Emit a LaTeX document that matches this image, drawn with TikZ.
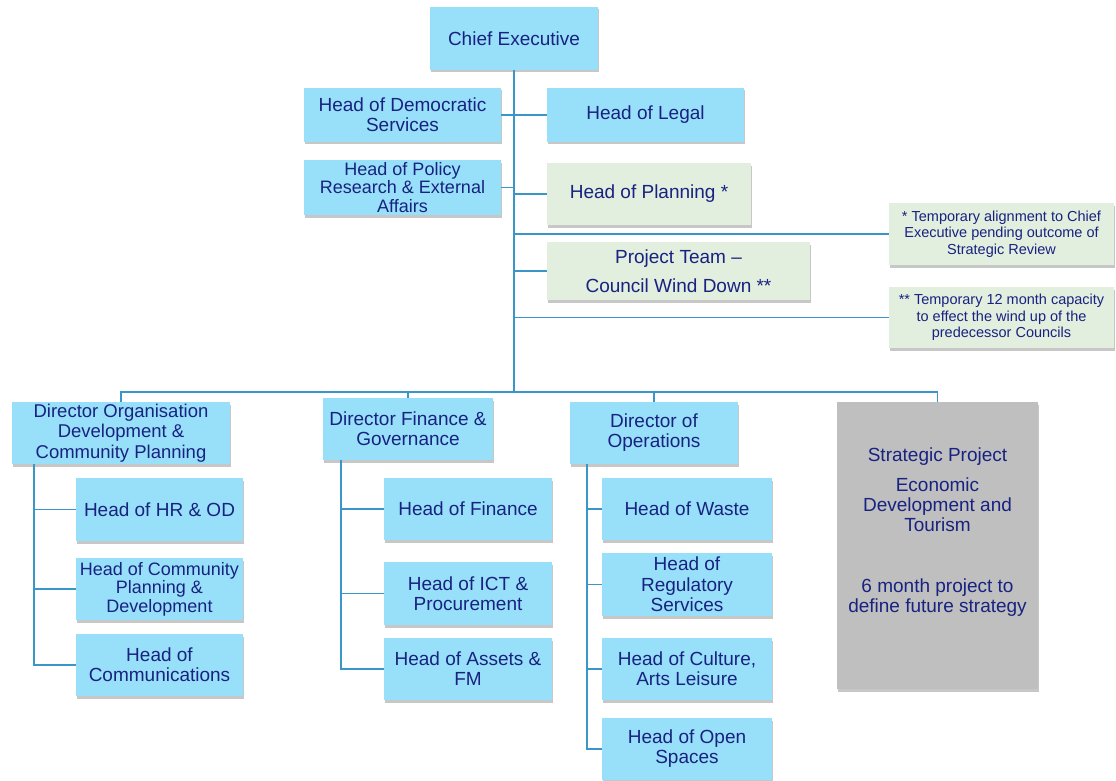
\documentclass[tikz,border=0pt]{standalone}
\usepackage{fontspec}
\setmainfont{Liberation Sans}
\usetikzlibrary{shadows}
\definecolor{boxblue}{RGB}{152,224,250}
\definecolor{boxgreen}{RGB}{226,238,222}
\definecolor{boxgrey}{RGB}{191,191,191}
\definecolor{navy}{RGB}{24,34,128}
\definecolor{linkblue}{RGB}{58,150,200}
\tikzset{
  wh/.style 2 args={minimum width=#1pt, minimum height=#2pt},
  box/.style={draw=none, fill=boxblue, text=navy, align=center, inner sep=0pt,
    font=\fontsize{19}{20}\selectfont,
    drop shadow={shadow xshift=1pt, shadow yshift=-2.5pt, fill=black, opacity=0.22}},
  gbox/.style={box, fill=boxgreen},
  greybox/.style={box, fill=boxgrey},
  small/.style={font=\fontsize{18}{18.5}\selectfont},
  note/.style={font=\fontsize{14.5}{16.5}\selectfont},
  conn/.style={draw=linkblue, line width=1.4pt}
}
\begin{document}
\begin{tikzpicture}[x=1pt, y=-1pt]
\useasboundingbox (0,0) rectangle (1116,781);
% top level
\node[box, wh={168}{63}] (ce) at (514,38.5) {Chief Executive};
\node[box, wh={197}{54}] (dem) at (402.5,115) {Head of Democratic\\Services};
\node[box, wh={197}{54}] (leg) at (645.5,115) {Head of Legal};
\node[box, small, wh={197}{55}] (pol) at (402.5,187.5) {Head of Policy\\Research \& External\\Affairs};
\node[gbox, wh={204}{62}] (plan) at (649,194) {Head of Planning *};
\node[gbox, wh={263}{58}, font=\fontsize{19}{29}\selectfont] (proj) at (678.5,271) {Project Team --\\Council Wind Down **};
\node[gbox, note, wh={225}{62}] (n1) at (1001.5,234) {* Temporary alignment to Chief\\Executive pending outcome of\\Strategic Review};
\node[gbox, note, wh={225}{61}] (n2) at (1001.5,317.5) {** Temporary 12 month capacity\\to effect the wind up of the\\predecessor Councils};
% directors
\node[box, font=\fontsize{18.5}{20.5}\selectfont, wh={218}{62}] (d1) at (121,433) {Director Organisation\\Development \&\\Community Planning};
\node[box, wh={170}{62}] (d2) at (408,429) {Director Finance \&\\Governance};
\node[box, wh={168}{62}] (d3) at (654,433) {Director of\\Operations};
\node[greybox, wh={201}{287}] (sp) at (937.5,545.5) {Strategic Project\\[10pt]Economic\\Development and\\Tourism\\[41pt]6 month project to\\define future strategy\\[11pt]\mbox{}};
% column 1
\node[box, wh={167}{63}] (hr) at (159.5,509.5) {Head of HR \& OD};
\node[box, small, wh={167}{62}] (cp) at (159.5,589) {Head of Community\\Planning \&\\Development};
\node[box, wh={167}{62}] (com) at (159.5,665) {Head of\\Communications};
% column 2
\node[box, wh={168}{62}] (fin) at (468,509) {Head of Finance};
\node[box, wh={168}{63}] (ict) at (468,593.5) {Head of ICT \&\\Procurement};
\node[box, wh={168}{62}] (ass) at (468,669) {Head of Assets \&\\FM};
% column 3
\node[box, wh={170}{62}] (was) at (687,509) {Head of Waste};
\node[box, font=\fontsize{19}{20.5}\selectfont, wh={170}{63}] (reg) at (687,584.5) {Head of\\Regulatory\\Services};
\node[box, wh={170}{62}] (cul) at (687,669) {Head of Culture,\\Arts Leisure};
\node[box, wh={170}{62}] (ops) at (687,749) {Head of Open\\Spaces};
% connectors
\coordinate (bus) at (514,392);
\coordinate (v1) at (34,464);
\coordinate (v2) at (341,460);
\coordinate (v3) at (587,464);
\draw[conn] (ce.south) -- (bus);
\draw[conn] (dem.east) -- (leg.west);
\draw[conn] (pol.east) -- (pol.east -| ce.south);
\draw[conn] (plan.west) -- (plan.west -| ce.south);
\draw[conn] (n1.west) -- (n1.west -| ce.south);
\draw[conn] (proj.west) -- (proj.west -| ce.south);
\draw[conn] (n2.west) -- (n2.west -| ce.south);
\draw[conn] (d1.north) |- (bus) -| (sp.north);
\draw[conn] (d2.north) -- (d2.north |- bus);
\draw[conn] (d3.north) -- (d3.north |- bus);
\draw[conn] (v1) |- (hr.west);
\draw[conn] (v1) |- (cp.west);
\draw[conn] (v1) |- (com.west);
\draw[conn] (v2) |- (fin.west);
\draw[conn] (v2) |- (ict.west);
\draw[conn] (v2) |- (ass.west);
\draw[conn] (v3) |- (was.west);
\draw[conn] (v3) |- (reg.west);
\draw[conn] (v3) |- (cul.west);
\draw[conn] (v3) |- (ops.west);
\end{tikzpicture}
\end{document}
